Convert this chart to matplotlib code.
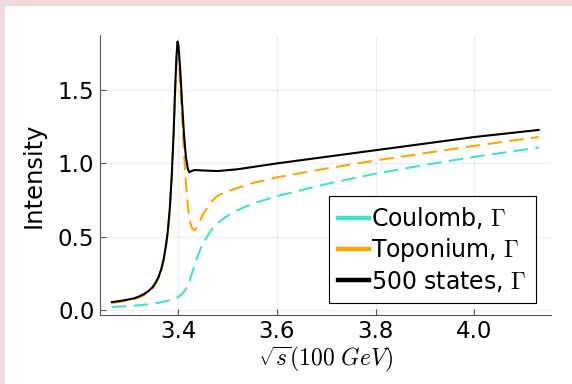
import matplotlib.pyplot as plt
from matplotlib.lines import Line2D
from matplotlib.patches import Rectangle

plt.rcParams['mathtext.fontset'] = 'cm'
plt.rcParams['font.family'] = 'DejaVu Sans'

# sqrt(s) in units of 100 GeV
x_states = [3.266, 3.28, 3.295, 3.31, 3.32, 3.33, 3.34, 3.348, 3.355, 3.361,
            3.366, 3.371, 3.375, 3.379, 3.383, 3.387, 3.391, 3.394, 3.397, 3.399,
            3.401, 3.404, 3.408, 3.412, 3.416, 3.42, 3.423, 3.427, 3.434, 3.45,
            3.48, 3.52, 3.6, 3.7, 3.8, 3.9, 4.0, 4.13]
y_states = [0.055, 0.062, 0.07, 0.08, 0.092, 0.108, 0.13, 0.155, 0.19, 0.23,
            0.28, 0.35, 0.43, 0.53, 0.68, 0.9, 1.2, 1.5, 1.74, 1.83,
            1.8, 1.66, 1.42, 1.2, 1.04, 0.96, 0.94, 0.948, 0.955, 0.952,
            0.948, 0.96, 1.0, 1.045, 1.09, 1.135, 1.18, 1.228]

x_topo = [3.266, 3.28, 3.295, 3.31, 3.32, 3.33, 3.34, 3.348, 3.355, 3.361,
          3.366, 3.371, 3.375, 3.379, 3.383, 3.387, 3.391, 3.394, 3.397, 3.399,
          3.401, 3.404, 3.408, 3.412, 3.416, 3.42, 3.424, 3.429, 3.434, 3.44,
          3.45, 3.465, 3.48, 3.5, 3.55, 3.6, 3.7, 3.8, 3.9, 4.0, 4.13]
y_topo = [0.05, 0.056, 0.064, 0.074, 0.086, 0.1, 0.122, 0.147, 0.18, 0.22,
          0.27, 0.34, 0.42, 0.52, 0.67, 0.88, 1.17, 1.46, 1.7, 1.78,
          1.74, 1.58, 1.32, 1.08, 0.87, 0.70, 0.60, 0.555, 0.545, 0.575,
          0.65, 0.73, 0.78, 0.81, 0.865, 0.905, 0.965, 1.02, 1.07, 1.12, 1.18]

x_coul = [3.266, 3.3, 3.33, 3.36, 3.38, 3.395, 3.405, 3.413, 3.42, 3.427,
          3.434, 3.44, 3.447, 3.455, 3.465, 3.475, 3.49, 3.51, 3.55, 3.6,
          3.7, 3.8, 3.9, 4.0, 4.13]
y_coul = [0.022, 0.028, 0.036, 0.05, 0.065, 0.08, 0.10, 0.13, 0.17, 0.24,
          0.31, 0.37, 0.43, 0.48, 0.535, 0.575, 0.62, 0.665, 0.725, 0.777,
          0.86, 0.93, 0.99, 1.045, 1.108]

labels = [r"Coulomb, $\Gamma$", r"Toponium, $\Gamma$", r"500 states, $\Gamma$"]
colors = ["#40E0D0", "#FFA500", "black"]

fig = plt.figure(figsize=(5.72, 3.84), dpi=100)
fig.patch.set_facecolor('#efd9da')
fig.patches.append(Rectangle((5 / 572, 0), 1, 1 - 6 / 384, transform=fig.transFigure,
                             facecolor='white', edgecolor='none', zorder=-10))
ax = fig.add_axes([0.1748, 0.1807, 0.7885, 0.7282])
ax.set_facecolor('white')

dash = (0, (7, 3.5))
ax.plot(x_coul, y_coul, color=colors[0], lw=1.5, linestyle=dash)
ax.plot(x_topo, y_topo, color=colors[1], lw=1.5, linestyle=dash)
ax.plot(x_states, y_states, color=colors[2], lw=1.5)

ax.set_xlim(3.242, 4.155)
ax.set_ylim(-0.03, 1.875)
ax.set_xticks([3.4, 3.6, 3.8, 4.0])
ax.set_yticks([0.0, 0.5, 1.0, 1.5])
ax.grid(True, color='black', alpha=0.07, lw=0.8)
for side in ['top', 'right']:
    ax.spines[side].set_visible(False)
for side in ['left', 'bottom']:
    ax.spines[side].set_color('#555555')
ax.tick_params(direction='in', length=4, color='#555555', labelsize=16.5, pad=4)

ax.set_xlabel(r"$\sqrt{s}(100\ GeV)$", fontsize=17, labelpad=1)
ax.set_ylabel("Intensity", fontsize=17.5, labelpad=9)

handles = [Line2D([], [], color=c, lw=3.2) for c in colors]
leg = ax.legend(handles, labels, loc='lower right', bbox_to_anchor=(0.967, 0.041),
                borderaxespad=0, fontsize=17, fancybox=False, framealpha=1,
                edgecolor='black', handlelength=1.3, handletextpad=0.1,
                labelspacing=0.2, borderpad=0.4)
leg.get_frame().set_linewidth(0.8)

fig.savefig("out.png", dpi=100)
